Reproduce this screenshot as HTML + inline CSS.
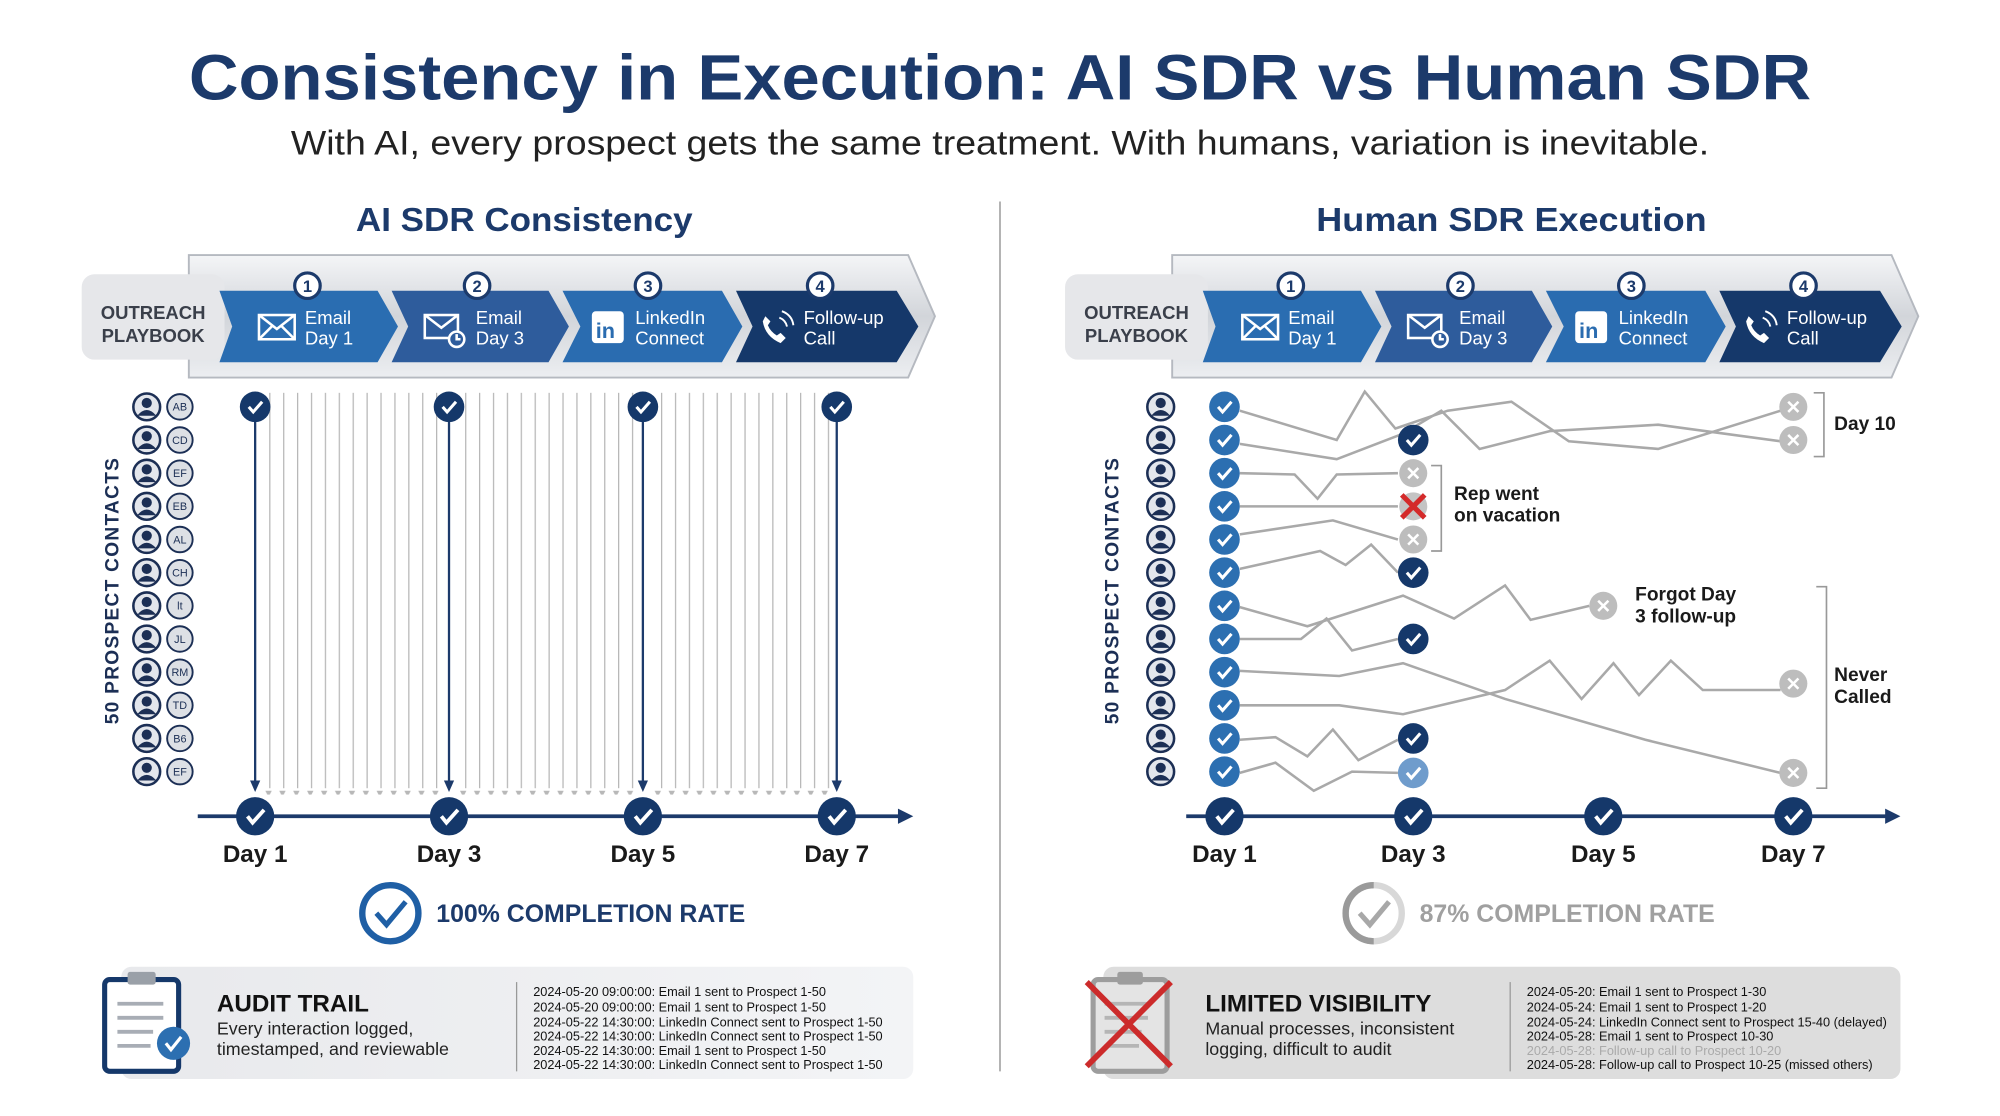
<!DOCTYPE html>
<html><head><meta charset="utf-8"><style>
html,body{margin:0;padding:0;background:#fff;}
svg{display:block;}
text{font-family:"Liberation Sans",sans-serif;}
</style></head><body>
<svg width="2000" height="1116" viewBox="0 0 1568 875" xmlns="http://www.w3.org/2000/svg">
<defs>
<linearGradient id="silver" x1="0" y1="0" x2="0" y2="1">
<stop offset="0" stop-color="#f4f5f7"/><stop offset="0.5" stop-color="#d2d5da"/><stop offset="1" stop-color="#eceef1"/></linearGradient>
<linearGradient id="boxg" x1="0" y1="0" x2="1" y2="0"><stop offset="0" stop-color="#e8e9ec"/><stop offset="1" stop-color="#f3f4f6"/></linearGradient>
<pattern id="vl" x="211" y="0" width="10.9" height="20" patternUnits="userSpaceOnUse"><line x1="0.5" y1="0" x2="0.5" y2="20" stroke="#b8b8b8" stroke-width="1"/></pattern>
<pattern id="ah" x="208" y="0" width="10.9" height="10" patternUnits="userSpaceOnUse"><path d="M0 0 L5 0 L2.5 5Z" fill="#b8b8b8"/></pattern>
<g id="pb">
<path d="M148 200 L712 200 L733 248 L712 296 L148 296 Z" fill="url(#silver)" stroke="#b5b9c0" stroke-width="1.5"/>
<rect x="64" y="215" width="112" height="67" rx="10" fill="#e6e7ea"/>
<text x="120" y="250" font-size="14.5" font-weight="bold" fill="#3a3f4a" text-anchor="middle">OUTREACH</text>
<text x="120" y="268" font-size="14.5" font-weight="bold" fill="#3a3f4a" text-anchor="middle">PLAYBOOK</text>
<path d="M172 228 L296 228 L312 256 L296 284 L172 284 L182 256Z" fill="#2a6db1"/>
<path d="M307 228 L430 228 L446 256 L430 284 L307 284 L320 256Z" fill="#2e5c9c"/>
<path d="M441 228 L566 228 L582 256 L566 284 L441 284 L455 256Z" fill="#2a6cb0"/>
<path d="M577 228 L703 228 L720 256 L703 284 L577 284 L590 256Z" fill="#15386a"/>
<g fill="#fff" stroke="#1c3a6b" stroke-width="2.5">
<circle cx="241" cy="224" r="10"/><circle cx="374" cy="224" r="10"/><circle cx="508" cy="224" r="10"/><circle cx="643" cy="224" r="10"/></g>
<g font-size="13" font-weight="bold" fill="#1c3a6b" text-anchor="middle">
<text x="241" y="229">1</text><text x="374" y="229">2</text><text x="508" y="229">3</text><text x="643" y="229">4</text></g>
<g font-size="14.5" fill="#fff">
<text x="239" y="254">Email</text><text x="239" y="270">Day 1</text>
<text x="373" y="254">Email</text><text x="373" y="270">Day 3</text>
<text x="498" y="254">LinkedIn</text><text x="498" y="270">Connect</text>
<text x="630" y="254">Follow-up</text><text x="630" y="270">Call</text></g>
<g stroke="#fff" stroke-width="2" fill="none">
<rect x="203" y="247" width="28" height="19"/><path d="M203 247 L217 258 L231 247 M203 266 L213 256 M231 266 L221 256"/>
<rect x="333" y="247" width="26" height="18"/><path d="M333 247 L346 257 L359 247"/><circle cx="358" cy="266" r="6" fill="#2e5c9c"/><path d="M358 262 V266 H361"/>
<path d="M598 252 q2 12 14 17 l4 -4 l-4 -4 l-3 2 q-5 -3 -7 -8 l2 -3 l-4 -4z" fill="#fff" stroke="none"/>
<path d="M611 249 q5 2 6 7 M613 244 q8 3 9 11" stroke-width="1.5"/></g>
<rect x="464" y="244" width="25" height="25" rx="3" fill="#fff"/>
<text x="467" y="265" font-size="17" font-weight="bold" fill="#2a6cb0">in</text>
</g>
<g id="per"><circle r="10.5" fill="#e3e6ec" stroke="#1c2f55" stroke-width="2"/><circle cy="-3" r="4" fill="#1c2f55"/><path d="M-7.5 7 q7.5 -9 15 0z" fill="#1c2f55"/></g>
<g id="chk"><circle r="12" fill="#15386a"/><path d="M-5 0 L-1.5 4 L5.5 -4" stroke="#fff" stroke-width="2.4" fill="none"/></g>
<g id="chkb"><circle r="12" fill="#2c6fb1"/><path d="M-5 0 L-1.5 4 L5.5 -4" stroke="#fff" stroke-width="2.4" fill="none"/></g>
<g id="xg"><circle r="11" fill="#bdbdbd"/><path d="M-4 -4 L4 4 M4 -4 L-4 4" stroke="#fff" stroke-width="2"/></g>
<g id="ax"><circle r="15" fill="#15386a"/><path d="M-6 0 L-2 5 L7 -5" stroke="#fff" stroke-width="3" fill="none"/></g>
</defs>

<text x="148" y="78" font-size="50" font-weight="bold" fill="#1c3a6b" textLength="1272" lengthAdjust="spacingAndGlyphs">Consistency in Execution: AI SDR vs Human SDR</text>
<text x="228" y="121" font-size="27" fill="#222" textLength="1112" lengthAdjust="spacingAndGlyphs">With AI, every prospect gets the same treatment. With humans, variation is inevitable.</text>
<line x1="784" y1="158" x2="784" y2="840" stroke="#b0b0b0" stroke-width="1.5"/>

<text x="279" y="181" font-size="26" font-weight="bold" fill="#1c3a6b" textLength="264" lengthAdjust="spacingAndGlyphs">AI SDR Consistency</text>
<text x="1032" y="181" font-size="26" font-weight="bold" fill="#1c3a6b" textLength="306" lengthAdjust="spacingAndGlyphs">Human SDR Execution</text>

<use href="#pb"/>
<use href="#pb" transform="translate(771,0)"/>

<!-- LEFT -->
<text transform="translate(93,463) rotate(-90)" font-size="15" font-weight="bold" fill="#1c2f55" text-anchor="middle" letter-spacing="1">50 PROSPECT CONTACTS</text>
<g>
<use href="#per" x="115" y="319"/><use href="#per" x="115" y="345"/><use href="#per" x="115" y="371"/><use href="#per" x="115" y="397"/><use href="#per" x="115" y="423"/><use href="#per" x="115" y="449"/><use href="#per" x="115" y="475"/><use href="#per" x="115" y="501"/><use href="#per" x="115" y="527"/><use href="#per" x="115" y="553"/><use href="#per" x="115" y="579"/><use href="#per" x="115" y="605"/>
</g>
<g fill="#dde0e5" stroke="#1c2f55" stroke-width="1.5">
<circle cx="141" cy="319" r="10"/><circle cx="141" cy="345" r="10"/><circle cx="141" cy="371" r="10"/><circle cx="141" cy="397" r="10"/><circle cx="141" cy="423" r="10"/><circle cx="141" cy="449" r="10"/><circle cx="141" cy="475" r="10"/><circle cx="141" cy="501" r="10"/><circle cx="141" cy="527" r="10"/><circle cx="141" cy="553" r="10"/><circle cx="141" cy="579" r="10"/><circle cx="141" cy="605" r="10"/></g>
<g font-size="8.5" fill="#1c2f55" text-anchor="middle">
<text x="141" y="322">AB</text><text x="141" y="348">CD</text><text x="141" y="374">EF</text><text x="141" y="400">EB</text><text x="141" y="426">AL</text><text x="141" y="452">CH</text><text x="141" y="478">lt</text><text x="141" y="504">JL</text><text x="141" y="530">RM</text><text x="141" y="556">TD</text><text x="141" y="582">B6</text><text x="141" y="608">EF</text></g>

<rect x="210" y="308" width="136" height="310" fill="url(#vl)"/>
<rect x="362" y="308" width="136" height="310" fill="url(#vl)" transform="translate(1,0)"/>
<rect x="514" y="308" width="136" height="310" fill="url(#vl)" transform="translate(2,0)"/>
<rect x="207" y="617" width="140" height="6" fill="url(#ah)"/>
<rect x="359" y="617" width="140" height="6" fill="url(#ah)"/>
<rect x="511" y="617" width="140" height="6" fill="url(#ah)"/>
<g stroke="#1c3a6b" stroke-width="1.8"><line x1="200" y1="330" x2="200" y2="614"/><line x1="352" y1="330" x2="352" y2="614"/><line x1="504" y1="330" x2="504" y2="614"/><line x1="656" y1="330" x2="656" y2="614"/></g>
<g fill="#1c3a6b"><path d="M196 612 L204 612 L200 621Z"/><path d="M348 612 L356 612 L352 621Z"/><path d="M500 612 L508 612 L504 621Z"/><path d="M652 612 L660 612 L656 621Z"/></g>
<use href="#chk" x="200" y="319"/><use href="#chk" x="352" y="319"/><use href="#chk" x="504" y="319"/><use href="#chk" x="656" y="319"/>
<line x1="155" y1="640" x2="707" y2="640" stroke="#1c3a6b" stroke-width="3"/><path d="M704 634 L716 640 L704 646Z" fill="#1c3a6b"/>
<use href="#ax" x="200" y="640"/><use href="#ax" x="352" y="640"/><use href="#ax" x="504" y="640"/><use href="#ax" x="656" y="640"/>
<g font-size="19" font-weight="bold" fill="#1a1a1a" text-anchor="middle"><text x="200" y="676">Day 1</text><text x="352" y="676">Day 3</text><text x="504" y="676">Day 5</text><text x="656" y="676">Day 7</text></g>

<circle cx="306" cy="716" r="22" fill="none" stroke="#1f5fa5" stroke-width="5"/>
<path d="M295 716 L303 725 L318 707" stroke="#1f5fa5" stroke-width="4" fill="none"/>
<text x="342" y="723" font-size="19.5" font-weight="bold" fill="#1c3a6b">100% COMPLETION RATE</text>

<rect x="95" y="758" width="621" height="88" rx="8" fill="url(#boxg)"/>
<rect x="82" y="768" width="58" height="72" rx="4" fill="#fff" stroke="#15386a" stroke-width="4"/>
<rect x="100" y="762" width="22" height="10" rx="2" fill="#9aa0a8"/>
<g stroke="#a8adb5" stroke-width="3"><line x1="92" y1="787" x2="128" y2="787"/><line x1="92" y1="798" x2="128" y2="798"/><line x1="92" y1="809" x2="120" y2="809"/><line x1="92" y1="820" x2="118" y2="820"/></g>
<circle cx="136" cy="818" r="13" fill="#2c6fb1"/><path d="M130 818 L134 823 L142 813" stroke="#fff" stroke-width="2.5" fill="none"/>
<text x="170" y="793" font-size="19" font-weight="bold" fill="#111">AUDIT TRAIL</text>
<text x="170" y="811" font-size="14" fill="#222">Every interaction logged,</text>
<text x="170" y="827" font-size="14" fill="#222">timestamped, and reviewable</text>
<line x1="405" y1="770" x2="405" y2="840" stroke="#999" stroke-width="1"/>
<g font-size="10" fill="#111">
<text x="418" y="781">2024-05-20 09:00:00: Email 1 sent to Prospect 1-50</text>
<text x="418" y="793">2024-05-20 09:00:00: Email 1 sent to Prospect 1-50</text>
<text x="418" y="805">2024-05-22 14:30:00: LinkedIn Connect sent to Prospect 1-50</text>
<text x="418" y="816">2024-05-22 14:30:00: LinkedIn Connect sent to Prospect 1-50</text>
<text x="418" y="827">2024-05-22 14:30:00: Email 1 sent to Prospect 1-50</text>
<text x="418" y="838">2024-05-22 14:30:00: LinkedIn Connect sent to Prospect 1-50</text></g>

<!-- RIGHT -->
<text transform="translate(877,463) rotate(-90)" font-size="15" font-weight="bold" fill="#1c2f55" text-anchor="middle" letter-spacing="1">50 PROSPECT CONTACTS</text>
<g>
<use href="#per" x="910" y="319"/><use href="#per" x="910" y="345"/><use href="#per" x="910" y="371"/><use href="#per" x="910" y="397"/><use href="#per" x="910" y="423"/><use href="#per" x="910" y="449"/><use href="#per" x="910" y="475"/><use href="#per" x="910" y="501"/><use href="#per" x="910" y="527"/><use href="#per" x="910" y="553"/><use href="#per" x="910" y="579"/><use href="#per" x="910" y="605"/>
</g>
<g fill="none" stroke="#a9a9a9" stroke-width="2">
<polyline points="972,322 1048,345 1070,307 1094,336 1135,322 1185,315 1230,346 1300,352 1396,322"/>
<polyline points="972,348 1048,360 1100,340 1130,322 1160,352 1215,338 1300,333 1396,346"/>
<polyline points="972,371 1015,372 1033,391 1048,372 1096,371"/>
<polyline points="972,397 1096,397"/>
<polyline points="972,419 1045,408 1096,423"/>
<polyline points="972,446 1035,432 1055,443 1075,427 1096,449"/>
<polyline points="972,476 1025,491 1100,467 1140,485 1180,459 1200,486 1246,475"/>
<polyline points="972,501 1020,501 1040,485 1060,510 1096,501"/>
<polyline points="972,526 1050,530 1100,520 1180,548 1290,580 1396,606"/>
<polyline points="972,553 1050,553 1100,560 1180,541 1215,518 1240,548 1265,520 1285,545 1310,518 1335,541 1396,541"/>
<polyline points="972,580 1000,578 1025,593 1045,572 1065,596 1096,580"/>
<polyline points="972,606 1000,598 1030,620 1060,605 1096,606"/>
</g>
<g><use href="#chkb" x="960" y="319"/><use href="#chkb" x="960" y="345"/><use href="#chkb" x="960" y="371"/><use href="#chkb" x="960" y="397"/><use href="#chkb" x="960" y="423"/><use href="#chkb" x="960" y="449"/><use href="#chkb" x="960" y="475"/><use href="#chkb" x="960" y="501"/><use href="#chkb" x="960" y="527"/><use href="#chkb" x="960" y="553"/><use href="#chkb" x="960" y="579"/><use href="#chkb" x="960" y="605"/></g>
<use href="#chk" x="1108" y="345"/><use href="#chk" x="1108" y="449"/><use href="#chk" x="1108" y="501"/><use href="#chk" x="1108" y="579"/>
<g><circle cx="1108" cy="606" r="12" fill="#6f9ccc"/><path d="M1103 606 L1106.5 610 L1113.5 602" stroke="#fff" stroke-width="2.4" fill="none"/></g>
<use href="#xg" x="1108" y="371"/><use href="#xg" x="1108" y="423"/>
<circle cx="1108" cy="397" r="11" fill="#c4c4c4"/><path d="M1099 388 L1117 406 M1117 388 L1099 406" stroke="#d42a2a" stroke-width="4"/>
<use href="#xg" x="1257" y="475"/>
<use href="#xg" x="1406" y="319"/><use href="#xg" x="1406" y="345"/><use href="#xg" x="1406" y="536"/><use href="#xg" x="1406" y="606"/>
<g fill="none" stroke="#999" stroke-width="1.3">
<path d="M1422 308 H1430 V358 H1422"/>
<path d="M1122 365 H1130 V432 H1122"/>
<path d="M1424 460 H1432 V618 H1424"/></g>
<g font-size="15" font-weight="bold" fill="#1a1a1a">
<text x="1438" y="337">Day 10</text>
<text x="1140" y="392">Rep went</text><text x="1140" y="409">on vacation</text>
<text x="1282" y="471">Forgot Day</text><text x="1282" y="488">3 follow-up</text>
<text x="1438" y="534">Never</text><text x="1438" y="551">Called</text></g>
<line x1="930" y1="640" x2="1480" y2="640" stroke="#1c3a6b" stroke-width="3"/><path d="M1478 634 L1490 640 L1478 646Z" fill="#1c3a6b"/>
<use href="#ax" x="960" y="640"/><use href="#ax" x="1108" y="640"/><use href="#ax" x="1257" y="640"/><use href="#ax" x="1406" y="640"/>
<g font-size="19" font-weight="bold" fill="#1a1a1a" text-anchor="middle"><text x="960" y="676">Day 1</text><text x="1108" y="676">Day 3</text><text x="1257" y="676">Day 5</text><text x="1406" y="676">Day 7</text></g>

<circle cx="1077" cy="716" r="22" fill="none" stroke="#d8d8d8" stroke-width="5"/>
<path d="M1077 694 A22 22 0 0 0 1077 738" fill="none" stroke="#9a9a9a" stroke-width="5"/>
<path d="M1066 716 L1074 725 L1089 707" stroke="#a8a8a8" stroke-width="4" fill="none"/>
<text x="1113" y="723" font-size="19.5" font-weight="bold" fill="#a0a0a0">87% COMPLETION RATE</text>

<rect x="865" y="758" width="625" height="88" rx="8" fill="#dddddd"/>
<rect x="857" y="768" width="58" height="72" rx="4" fill="#e4e4e4" stroke="#9d9d9d" stroke-width="4"/>
<rect x="876" y="762" width="20" height="10" rx="2" fill="#9d9d9d"/>
<g stroke="#b5b5b5" stroke-width="3"><line x1="866" y1="787" x2="900" y2="787"/><line x1="866" y1="798" x2="900" y2="798"/><line x1="866" y1="809" x2="895" y2="809"/><line x1="866" y1="820" x2="893" y2="820"/></g>
<path d="M852 770 L918 836 M918 770 L852 836" stroke="#cc2b2b" stroke-width="4.5"/>
<text x="945" y="793" font-size="19" font-weight="bold" fill="#111">LIMITED VISIBILITY</text>
<text x="945" y="811" font-size="14" fill="#222">Manual processes, inconsistent</text>
<text x="945" y="827" font-size="14" fill="#222">logging, difficult to audit</text>
<line x1="1184" y1="770" x2="1184" y2="840" stroke="#999" stroke-width="1"/>
<g font-size="10" fill="#111">
<text x="1197" y="781">2024-05-20: Email 1 sent to Prospect 1-30</text>
<text x="1197" y="793">2024-05-24: Email 1 sent to Prospect 1-20</text>
<text x="1197" y="805">2024-05-24: LinkedIn Connect sent to Prospect 15-40 (delayed)</text>
<text x="1197" y="816">2024-05-28: Email 1 sent to Prospect 10-30</text>
<text x="1197" y="827" fill="#aaa">2024-05-28: Follow-up call to Prospect 10-20</text>
<text x="1197" y="838">2024-05-28: Follow-up call to Prospect 10-25 (missed others)</text></g>
</svg>
</body></html>
